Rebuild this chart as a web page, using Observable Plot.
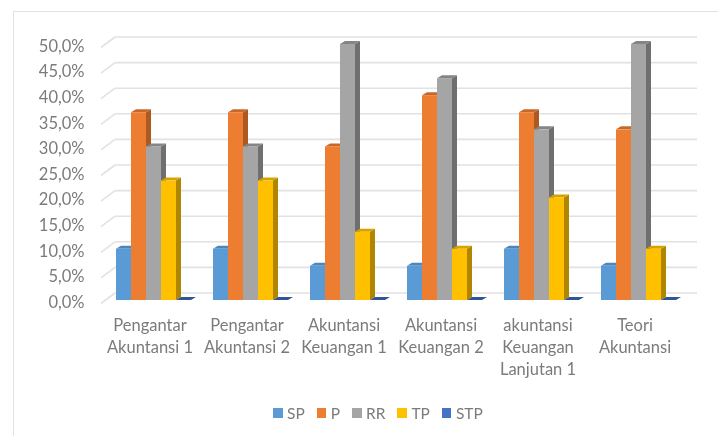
<!DOCTYPE html>
<html>
<head>
<meta charset="utf-8">
<script src="https://cdn.jsdelivr.net/npm/d3@7"></script>
<script src="https://cdn.jsdelivr.net/npm/@observablehq/plot@0.6"></script>
<style>
  html, body { margin: 0; padding: 0; background: #fff; overflow: hidden; }
  #page { position: relative; width: 718px; height: 436px; font-family: Lato, sans-serif; filter: blur(0.45px); }
  #frame { position: absolute; left: 13px; top: 11px; width: 705px; height: 425px; box-sizing: border-box;
           border-left: 1.5px solid #e3e3e3; border-top: 1.5px solid #e3e3e3; pointer-events: none; }
  #chart svg { display: block; }
  #legend { position: absolute; left: 273px; top: 404px; display: flex; align-items: center; color: #7b7b7b; font-size: 15.5px; line-height: 18px; }
  #legend .item { display: flex; align-items: center; margin-right: 12px; }
  #legend .swatch { width: 9.5px; height: 9.5px; margin-right: 4.5px; }
</style>
</head>
<body>
<div id="page">
  <div id="chart"></div>
  <div id="frame"></div>
  <div id="legend"></div>
</div>
<script>
const categories = [
  "Pengantar\nAkuntansi 1",
  "Pengantar\nAkuntansi 2",
  "Akuntansi\nKeuangan 1",
  "Akuntansi\nKeuangan 2",
  "akuntansi\nKeuangan\nLanjutan 1",
  "Teori\nAkuntansi"
];
const seriesNames = ["SP", "P", "RR", "TP", "STP"];
const SP  = [10, 10, 6.67, 6.67, 10, 6.67];
const P   = [36.67, 36.67, 30, 40, 36.67, 33.33];
const RR  = [30, 30, 50, 43.33, 33.33, 50];
const TP  = [23.33, 23.33, 13.33, 10, 20, 10];
const STP = [0, 0, 0, 0, 0, 0];
const seriesValues = [SP, P, RR, TP, STP];
const yTicks = [0, 5, 10, 15, 20, 25, 30, 35, 40, 45, 50];

const frontColors = ["#5b9bd5", "#ed7d31", "#a5a5a5", "#ffc000", "#4472c4"];
const sideColors  = ["#41719c", "#ad5a22", "#6f6f6f", "#b08600", "#2f528f"];
const topColors   = ["#4c86bd", "#c6682a", "#858585", "#d6a200", "#2f5597"];

const depthX = 5, depthY = 3;       // bar extrusion
const wallX = 14, wallY = 7.5;      // grid on the back wall
const floorX = 0, floorY = 3;       // front end of the slanted grid stubs
const barW = 15, barStart = 15;
const bandW = 97;

const svgNS = "http://www.w3.org/2000/svg";
function poly(points, fill) {
  const p = document.createElementNS(svgNS, "polygon");
  p.setAttribute("points", points.map(d => d.join(",")).join(" "));
  p.setAttribute("fill", fill);
  return p;
}

// Adds the side and top faces of each bar from the rects that Plot computed.
function extrude(side, top) {
  return (index, scales, values, dimensions, context, next) => {
    const g = next(index, scales, values, dimensions, context);
    for (const r of Array.from(g.querySelectorAll("rect"))) {
      const x = +r.getAttribute("x"), y = +r.getAttribute("y");
      const w = +r.getAttribute("width"), h = +r.getAttribute("height");
      const parent = r.parentNode;
      parent.insertBefore(poly([[x + w, y], [x + w + depthX, y - depthY], [x + w + depthX, y + h - depthY], [x + w, y + h]], side), r);
      parent.insertBefore(poly([[x, y], [x + depthX, y - depthY], [x + w + depthX, y - depthY], [x + w, y]], top), r);
    }
    return g;
  };
}

// Slanted stub joining the front of each level to the back wall.
function stubs(index, scales, values, dimensions, context, next) {
  const g = next(index, scales, values, dimensions, context);
  for (const l of Array.from(g.querySelectorAll("line"))) {
    const y = +l.getAttribute("y1");
    l.setAttribute("x1", dimensions.marginLeft - floorX);
    l.setAttribute("y1", y + floorY);
    l.setAttribute("x2", dimensions.marginLeft + wallX);
    l.setAttribute("y2", y - wallY);
  }
  return g;
}

const barMarks = seriesNames.map((name, i) => {
  const rows = categories.map((c, j) => ({category: c, value: seriesValues[i][j]}));
  return Plot.barY(rows, {
    x: "category",
    y1: () => 0,
    y2: "value",
    fill: frontColors[i],
    insetLeft: barStart + barW * i,
    insetRight: bandW - barStart - barW * (i + 1),
    render: extrude(sideColors[i], topColors[i])
  });
});

const chart = Plot.plot({
  width: 718,
  height: 395,
  marginLeft: 101,
  marginRight: 35,
  marginTop: 44,
  marginBottom: 95,
  style: {background: "transparent", fontFamily: "Lato, sans-serif"},
  x: {domain: categories, padding: 0, align: 0.5},
  y: {domain: [0, 50]},
  marks: [
    Plot.ruleY(yTicks, {y: d => d, stroke: "#e2e2e2", strokeWidth: 1.6, render: stubs}),
    Plot.ruleY(yTicks, {y: d => d, stroke: "#e2e2e2", strokeWidth: 1.6, dx: wallX, dy: -wallY}),
    ...barMarks,
    Plot.axisY({
      ticks: yTicks,
      tickSize: 0,
      tickPadding: 17,
      tickFormat: d => d.toFixed(1).replace(".", ",") + "%",
      fontSize: 16.5,
      fill: "#7b7b7b",
      dy: 2,
      label: null
    }),
    Plot.axisX({
      tickSize: 0,
      tickPadding: 15.5,
      fontSize: 16.5,
      lineHeight: 1.32,
      fill: "#7b7b7b",
      label: null
    })
  ]
});
document.getElementById("chart").appendChild(chart);

const legend = d3.select("#legend");
seriesNames.forEach((name, i) => {
  const item = legend.append("div").attr("class", "item");
  item.append("div").attr("class", "swatch").style("background", frontColors[i]);
  item.append("span").text(name);
});
</script>
</body>
</html>
